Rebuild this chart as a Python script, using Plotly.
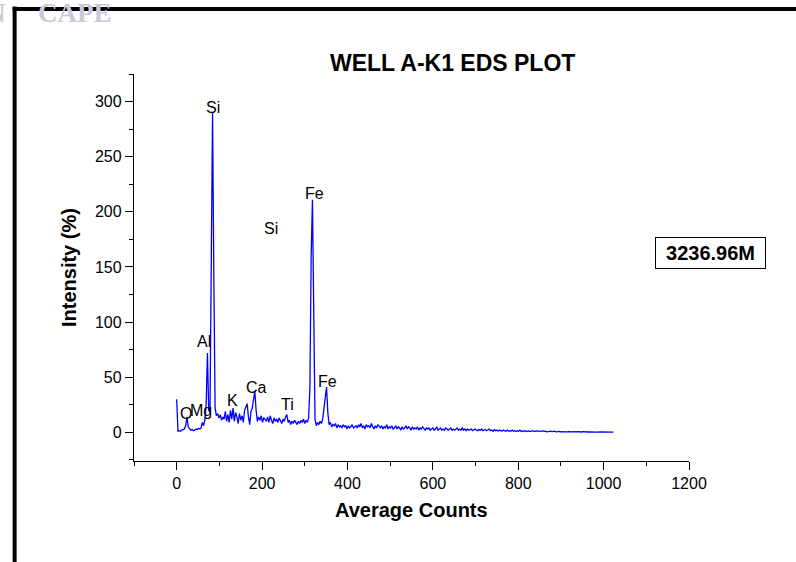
import plotly.graph_objects as go

# EDS spectrum, well A-K1 at 3236.96 m
channels = list(range(0, 1024, 3))
intensity = [
    # 0 - 57
    30, 1, 1.5, 1, 2, 2.5, 3, 6, 14, 5, 3, 2, 2.5, 1.5, 2, 3, 2.5, 3.5, 3, 4,
    # 60 - 117
    9, 6, 11, 25, 72, 20, 18, 150, 290, 140, 22, 15, 17, 13, 16, 11, 14, 12, 19, 10,
    # 120 - 177
    16, 9, 20, 12, 22, 10, 18, 14, 8, 17, 11, 15, 9, 20, 24, 26, 14, 7, 19, 22,
    # 180 - 237
    30, 37, 20, 10, 14, 11, 15, 9, 13, 12, 10, 14, 9, 15, 11, 8, 13, 10, 12, 9,
    # 240 - 297
    13, 11, 8, 12, 10, 14, 16, 9, 11, 7, 10, 8, 11, 9, 7, 10, 8, 11, 9, 12,
    # 300 - 357
    8, 11, 9, 13, 40, 160, 211, 110, 12, 6, 9, 7, 10, 8, 12, 22, 35, 41, 18, 7,
    # 360 - 417
    9, 5, 7, 6, 8, 4, 7, 5, 6, 4, 7, 5, 6, 3, 6, 4, 5, 7, 4, 5,
    # 420 - 477
    6, 4, 7, 5, 8, 4, 6, 3, 7, 5, 6, 4, 8, 5, 3, 6, 4, 7, 5, 4,
    # 480 - 537
    6, 3, 5, 4, 7, 3, 5, 4, 6, 3, 4, 6, 3, 5, 4, 2, 5, 3, 4, 6,
    # 540 - 597
    3, 5, 4, 2, 5, 3, 4, 3, 5, 2, 4, 3, 5, 3, 2, 4, 3, 4, 2, 3,
    # 600 - 657
    4, 2, 3, 5, 2, 3, 4, 2, 3, 2, 4, 3, 2, 3, 4, 2, 3, 2, 3, 4,
    # 660 - 717
    2, 3, 2, 4, 2, 3, 1.5, 3, 2, 2.5, 3, 1.5, 2, 3, 2, 1.5, 2.5, 2, 3, 1.5,
    # 720 - 777
    2, 2.5, 1.5, 2, 3, 1.5, 2, 1, 2.5, 1.5, 2, 1, 2, 1.5, 1, 2, 1.5, 1, 2, 1,
    # 780 - 837
    1.5, 1, 2, 1, 1.5, 0.8, 1.5, 1, 2, 0.8, 1.2, 1, 1.5, 0.8, 1, 1.3, 0.7, 1, 1.5, 0.8,
    # 840 - 897
    1, 0.7, 1.2, 0.8, 1, 0.6, 1.3, 0.8, 1, 0.5, 0.9, 0.7, 1.1, 0.6, 0.8, 1, 0.5, 0.8, 0.6, 0.9,
    # 900 - 957
    0.5, 0.8, 0.6, 0.4, 0.8, 0.5, 0.7, 0.4, 0.6, 0.5, 0.7, 0.4, 0.5, 0.6, 0.4, 0.5, 0.3, 0.6, 0.4, 0.5,
    # 960 - 1017
    0.4, 0.3, 0.4, 0.3, 0.3, 0.4, 0.3, 0.3, 0.3, 0.2, 0.3, 0.3, 0.2, 0.3, 0.2, 0.2, 0.3, 0.2, 0.2, 0.2,
    # 1020 - 1023
    0.2, 0.2,
]

# element labels placed beside their peaks
element_names = ["Si", "Si", "Fe", "Al", "O", "Mg", "K", "Ca", "Ti", "Fe"]
element_x = [85, 222, 322, 63, 22, 57, 130, 187, 259, 354]
element_y = [295, 185, 217, 82, 17, 20, 29, 41, 25, 46]

x_ticks = [0, 200, 400, 600, 800, 1000, 1200]
y_ticks = [0, 50, 100, 150, 200, 250, 300]

FONT = "Arial, Liberation Sans, sans-serif"
SERIF = "Liberation Serif, DejaVu Serif, serif"

fig = go.Figure()
fig.add_trace(go.Scatter(
    x=channels, y=intensity, mode="lines",
    line=dict(color="#0000ff", width=1.3),
    showlegend=False, hoverinfo="skip",
))

for name, ex, ey in zip(element_names, element_x, element_y):
    fig.add_annotation(x=ex, y=ey, xref="x", yref="y", text=name, showarrow=False,
                       xanchor="center", yanchor="middle",
                       font=dict(family=FONT, size=16, color="black"))

axis_common = dict(
    showline=True, linecolor="black", linewidth=1.3, mirror=False,
    ticks="outside", ticklen=8, tickwidth=1.3, tickcolor="black",
    showgrid=False, zeroline=False,
    tickfont=dict(family=FONT, size=16, color="black"),
)
fig.update_xaxes(range=[-100, 1200], tickvals=x_ticks,
                 minor=dict(dtick=100, tick0=0, ticklen=4, tickwidth=1.3,
                            tickcolor="black", ticks="outside", showgrid=False),
                 **axis_common)
fig.update_yaxes(range=[-26, 325], tickvals=y_ticks,
                 minor=dict(dtick=25, tick0=0, ticklen=4, tickwidth=1.3,
                            tickcolor="black", ticks="outside", showgrid=False),
                 **axis_common)

# titles
fig.add_annotation(x=0.5734, y=1.028, xref="paper", yref="paper", showarrow=False,
                   text="<b>WELL A-K1 EDS PLOT</b>", xanchor="center", yanchor="middle",
                   font=dict(family=FONT, size=23, color="black"))
fig.add_annotation(x=0.5, y=-0.1266, xref="paper", yref="paper", showarrow=False,
                   text="<b>Average Counts</b>", xanchor="center", yanchor="middle",
                   font=dict(family=FONT, size=20, color="black"))
fig.add_annotation(x=-0.118, y=0.5, xref="paper", yref="paper", showarrow=False,
                   text="<b>Intensity (%)</b>", textangle=-90,
                   xanchor="center", yanchor="middle",
                   font=dict(family=FONT, size=20, color="black"))

# depth tag
fig.add_annotation(x=1.0387, y=0.5375, xref="paper", yref="paper", showarrow=False,
                   text="<b>3236.96M</b>", xanchor="center", yanchor="middle",
                   width=105, height=26, borderpad=2,
                   bordercolor="black", borderwidth=1, bgcolor="white",
                   font=dict(family=FONT, size=20, color="black"))

# page watermark
fig.add_annotation(x=-0.2277, y=1.158, xref="paper", yref="paper", showarrow=False,
                   text="<b>N</b>", xanchor="right", yanchor="middle",
                   font=dict(family=SERIF, size=27, color="#c9c9dd"))
fig.add_annotation(x=-0.1773, y=1.158, xref="paper", yref="paper", showarrow=False,
                   text="<b>CAPE</b>", xanchor="left", yanchor="middle",
                   font=dict(family=SERIF, size=27, color="#c9c9dd"))

# page frame (left and top edges)
fig.add_shape(type="line", xref="paper", yref="paper",
              x0=-0.2151, x1=-0.2151, y0=1.1745, y1=-0.27,
              line=dict(color="black", width=4))
fig.add_shape(type="line", xref="paper", yref="paper",
              x0=-0.2187, x1=1.2, y0=1.168, y1=1.168,
              line=dict(color="black", width=4))

fig.update_layout(
    width=796, height=562, autosize=False,
    margin=dict(l=134, r=107, t=74, b=101),
    paper_bgcolor="white", plot_bgcolor="white",
    showlegend=False,
)

fig.write_html("out.html")
